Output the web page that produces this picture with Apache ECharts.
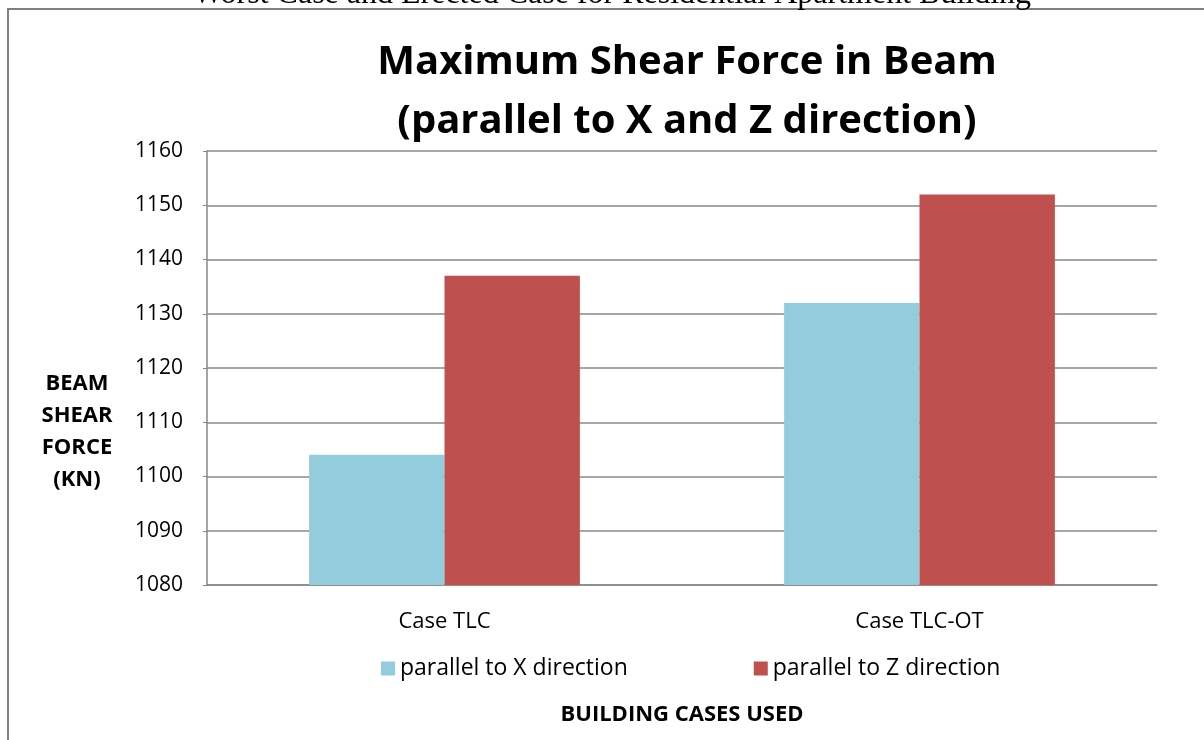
<!DOCTYPE html>
<html>
<head>
<meta charset="utf-8">
<script src="https://cdn.jsdelivr.net/npm/echarts@6/dist/echarts.min.js"></script>
<style>
  html, body { margin: 0; padding: 0; background: #fff; }
  #main { width: 1204px; height: 740px; }
</style>
</head>
<body>
<div id="main"></div>
<script>
var categories = ['Case TLC', 'Case TLC-OT'];
var seriesNames = ['parallel to X direction', 'parallel to Z direction'];
var xDirection = [1104, 1132];
var zDirection = [1137, 1152];
var yTicks = [1080, 1160, 10]; // min, max, step

var font = '"Open Sans", "Noto Sans", sans-serif';
var chart = echarts.init(document.getElementById('main'));

chart.setOption({
  backgroundColor: '#fff',
  animation: false,
  graphic: [
    {
      type: 'rect',
      shape: { x: 8, y: 9, width: 1220, height: 760 },
      style: { fill: 'none', stroke: '#808080', lineWidth: 2 },
      silent: true
    },
    {
      // caption of the page above the chart, cut off at the top
      type: 'text',
      x: 612,
      y: 11,
      style: {
        text: 'Worst Case and Erected Case for Residential Apartment Building',
        font: '32px "Liberation Serif", "DejaVu Serif", serif',
        fill: '#000',
        align: 'center',
        verticalAlign: 'bottom'
      }
    }
  ],
  title: {
    text: 'Maximum Shear Force in Beam\n(parallel to X and Z direction)',
    left: 682,
    top: 28,
    textAlign: 'center',
    textStyle: {
      fontFamily: font,
      fontWeight: 'bold',
      fontSize: 40,
      lineHeight: 59,
      color: '#000'
    }
  },
  legend: {
    top: 652,
    left: 376,
    itemGap: 126,
    itemWidth: 14,
    itemHeight: 14,
    icon: 'rect',
    textStyle: { fontFamily: font, fontSize: 23, color: '#000' },
    data: seriesNames
  },
  grid: {
    left: 207,
    right: 47,
    top: 151,
    bottom: 155
  },
  xAxis: {
    type: 'category',
    data: categories,
    name: 'BUILDING CASES USED',
    nameLocation: 'middle',
    nameGap: 119,
    nameTextStyle: { fontFamily: font, fontWeight: 'bold', fontSize: 22, color: '#000' },
    axisLine: { lineStyle: { color: '#888', width: 1.5 } },
    axisTick: { show: false },
    axisLabel: { fontFamily: font, fontSize: 22, color: '#000', margin: 26 }
  },
  yAxis: {
    type: 'value',
    min: yTicks[0],
    max: yTicks[1],
    interval: yTicks[2],
    name: 'BEAM\nSHEAR\nFORCE\n(KN)',
    nameLocation: 'middle',
    nameRotate: 0,
    nameGap: 130,
    nameTextStyle: {
      fontFamily: font, fontWeight: 'bold', fontSize: 22, lineHeight: 32,
      color: '#000', align: 'center', verticalAlign: 'top'
    },
    axisLine: { show: true, lineStyle: { color: '#888', width: 1.5 } },
    axisTick: { show: true, length: 4, lineStyle: { color: '#888' } },
    axisLabel: {
      fontFamily: font, fontSize: 21, color: '#000', margin: 24,
      formatter: function (v) { return String(v); }
    },
    splitLine: { lineStyle: { color: '#888', width: 1.5 } }
  },
  series: [
    {
      name: seriesNames[0],
      type: 'bar',
      data: xDirection,
      barGap: '0%',
      barCategoryGap: '43%',
      itemStyle: { color: '#93CDDD' }
    },
    {
      name: seriesNames[1],
      type: 'bar',
      data: zDirection,
      itemStyle: { color: '#C0504D' }
    }
  ]
});
</script>
</body>
</html>
